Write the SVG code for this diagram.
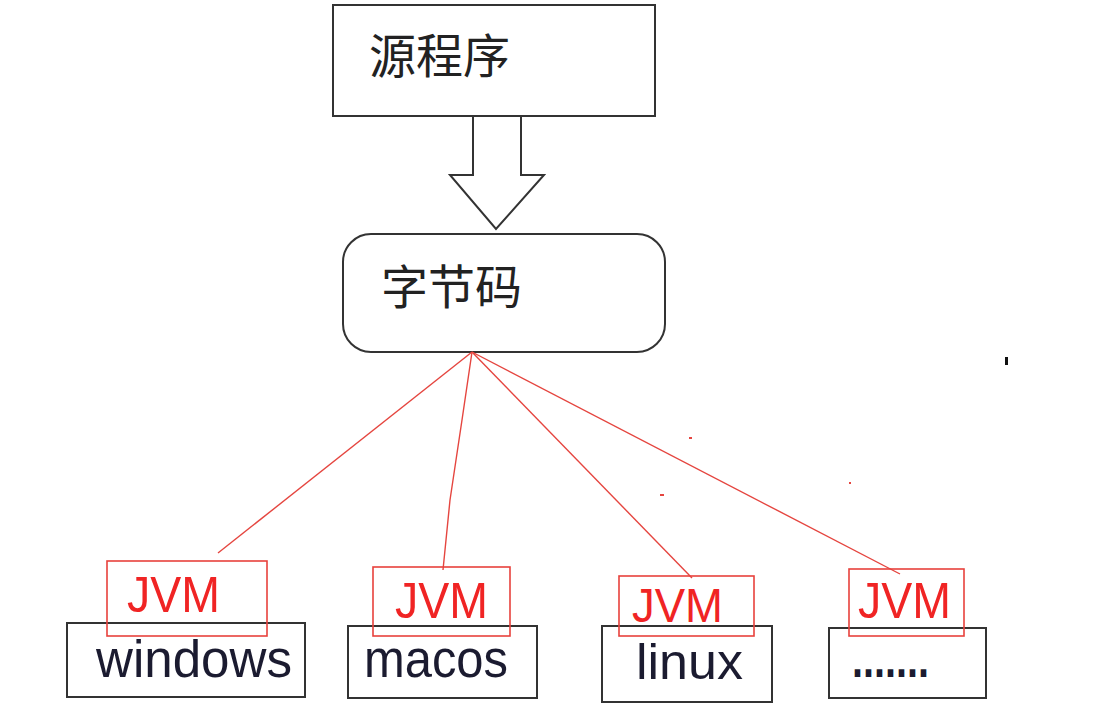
<svg xmlns="http://www.w3.org/2000/svg" width="1100" height="722" viewBox="0 0 1100 722">
<style>
.box{fill:none;stroke:#333;stroke-width:2}
.jvm{fill:none;stroke:#e8413c;stroke-width:1.6}
.line{fill:none;stroke:#e5453f;stroke-width:1.4}
.cjk{font-family:"Noto Sans CJK SC",sans-serif;font-size:47px;fill:#222}
.red{font-family:"Liberation Sans",sans-serif;font-size:50px;fill:#f02424}
.os{font-family:"Liberation Sans",sans-serif;font-size:51px;fill:#1b1b30}
</style>
<rect width="1100" height="722" fill="#fff"/>
<g id="src">
<rect class="box" x="333" y="5" width="322" height="111"/>
<text class="cjk" x="369" y="73">源程序</text>
</g>
<g id="arrow">
<path class="box" d="M473,116 V175 H450 L496,229 L544,175 H521 V116"/>
</g>
<g id="bytecode">
<rect class="box" x="343" y="234" width="322" height="118" rx="28" ry="28"/>
<text class="cjk" x="381" y="304">字节码</text>
</g>
<g id="connectors">
<path class="line" d="M472,352 L218,553"/>
<path class="line" d="M472,352 L462,420 L450,500 L443,570"/>
<path class="line" d="M472,352 L692,578"/>
<path class="line" d="M472,352 L900,574"/>
</g>
<g id="windows">
<rect class="box" x="67" y="623" width="238" height="74"/>
<text class="os" x="96" y="677" textLength="196" lengthAdjust="spacingAndGlyphs">windows</text>
<rect class="jvm" x="107" y="561" width="160" height="75"/>
<text class="red" x="127" y="612" textLength="93" lengthAdjust="spacingAndGlyphs">JVM</text>
</g>
<g id="macos">
<rect class="box" x="348" y="626" width="189" height="72"/>
<text class="os" x="364" y="677" textLength="144" lengthAdjust="spacingAndGlyphs">macos</text>
<rect class="jvm" x="373" y="567" width="137" height="69"/>
<text class="red" x="395" y="618" textLength="93" lengthAdjust="spacingAndGlyphs">JVM</text>
</g>
<g id="linux">
<rect class="box" x="602" y="626" width="170" height="76"/>
<text class="os" x="636" y="679" style="font-size:50px" textLength="107" lengthAdjust="spacingAndGlyphs">linux</text>
<rect class="jvm" x="619" y="576" width="135" height="60"/>
<text class="red" x="632" y="622" style="font-size:49px" textLength="91" lengthAdjust="spacingAndGlyphs">JVM</text>
</g>
<g id="other">
<rect class="box" x="829" y="628" width="157" height="70"/>
<text class="os" x="852" y="677" style="font-weight:bold" textLength="77" lengthAdjust="spacingAndGlyphs">.......</text>
<rect class="jvm" x="849" y="569" width="115" height="67"/>
<text class="red" x="858" y="618" textLength="93" lengthAdjust="spacingAndGlyphs">JVM</text>
</g>
<g id="marks">
<rect x="1005" y="357" width="3" height="8" fill="#111"/>
<rect x="689" y="437" width="3" height="2" fill="#e5453f"/>
<rect x="660" y="494" width="4" height="2" fill="#e5453f"/>
<rect x="849" y="482" width="2" height="2" fill="#e5453f"/>
</g>
</svg>
